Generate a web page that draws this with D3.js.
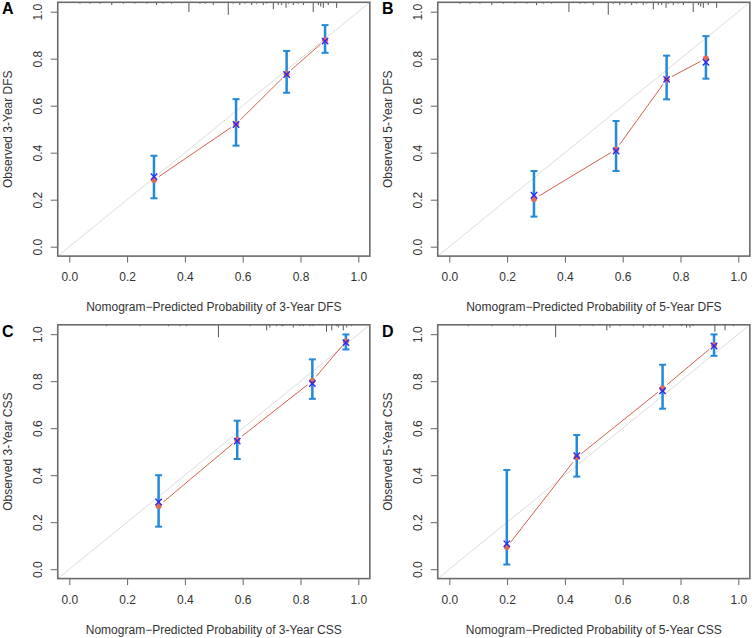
<!DOCTYPE html>
<html>
<head>
<meta charset="utf-8">
<script src="https://cdn.jsdelivr.net/npm/d3@7/dist/d3.min.js"></script>
<style>
  html, body { margin: 0; padding: 0; background: #fff; }
  svg { display: block; font-family: "Liberation Sans", Arial, sans-serif; }
</style>
</head>
<body>
<div id="chart"></div>
<script>
// ---- Data ----
const panelLabels = ["A", "B", "C", "D"];
const xTitles = [
  "Nomogram\u2212Predicted Probability of 3-Year DFS",
  "Nomogram\u2212Predicted Probability of 5-Year DFS",
  "Nomogram\u2212Predicted Probability of 3-Year CSS",
  "Nomogram\u2212Predicted Probability of 5-Year CSS"
];
const yTitles = ["Observed 3-Year DFS", "Observed 5-Year DFS", "Observed 3-Year CSS", "Observed 5-Year CSS"];
const tickValues = [0, 0.2, 0.4, 0.6, 0.8, 1.0];

// predicted (x), observed KM (red), bias-corrected (blue x), CI lower, CI upper
const predA = [0.293, 0.577, 0.752, 0.885];
const obsA  = [0.284, 0.522, 0.735, 0.879];
const corA  = [0.298, 0.520, 0.733, 0.875];
const lowA  = [0.206, 0.430, 0.655, 0.825];
const uppA  = [0.387, 0.628, 0.833, 0.943];

const predB = [0.293, 0.577, 0.752, 0.888];
const obsB  = [0.203, 0.414, 0.712, 0.801];
const corB  = [0.219, 0.407, 0.712, 0.785];
const lowB  = [0.128, 0.322, 0.627, 0.715];
const uppB  = [0.322, 0.535, 0.813, 0.896];

const predC = [0.309, 0.581, 0.841, 0.957];
const obsC  = [0.269, 0.550, 0.801, 0.969];
const corC  = [0.286, 0.545, 0.790, 0.964];
const lowC  = [0.181, 0.469, 0.725, 0.935];
const uppC  = [0.400, 0.632, 0.893, 0.999];

const predD = [0.199, 0.441, 0.738, 0.916];
const obsD  = [0.094, 0.476, 0.769, 0.953];
const corD  = [0.108, 0.483, 0.759, 0.950];
const lowD  = [0.020, 0.394, 0.683, 0.908];
const uppD  = [0.422, 0.571, 0.870, 0.999];

// distribution of predicted risk (rug spikes at top): position, relative frequency
const rugXDFS = [0.037,0.072,0.106,0.147,0.187,0.227,0.268,0.302,0.325,0.354,0.414,0.452,0.470,0.498,0.550,0.567,0.590,0.608,0.631,0.648,0.671,0.683,0.706,0.723,0.735,0.750,0.758,0.775,0.792,0.810,0.844,0.862,0.870,0.879,0.896,0.925];
const rugNDFS = [1,1,1,2,1,1,1,2,1,1,7,1,1,2,9,1,2,1,2,1,2,1,5,2,2,4,1,2,1,2,7,2,3,4,2,4];
const rugX3CSS = [0.129,0.245,0.343,0.383,0.406,0.516,0.625,0.683,0.694,0.717,0.735,0.740,0.775,0.798,0.810,0.833,0.844,0.890,0.908,0.925,0.931,0.948,0.960,0.977];
const rugN3CSS = [1,1,1,1,1,9,1,4,2,1,1,1,2,1,1,1,1,5,4,1,2,4,2,1];
const rugX5CSS = [0.066,0.147,0.222,0.245,0.268,0.368,0.452,0.498,0.545,0.556,0.590,0.637,0.671,0.694,0.712,0.740,0.763,0.804,0.821,0.833,0.844,0.919,0.954,0.983];
const rugN5CSS = [1,1,1,1,1,9,1,1,4,2,1,1,2,1,1,2,1,1,2,2,1,5,4,1];

const panels = [
  {pred: predA, obs: obsA, cor: corA, low: lowA, upp: uppA, rx: rugXDFS, rn: rugNDFS},
  {pred: predB, obs: obsB, cor: corB, low: lowB, upp: uppB, rx: rugXDFS, rn: rugNDFS},
  {pred: predC, obs: obsC, cor: corC, low: lowC, upp: uppC, rx: rugX3CSS, rn: rugN3CSS},
  {pred: predD, obs: obsD, cor: corD, low: lowD, upp: uppD, rx: rugX5CSS, rn: rugN5CSS}
];

// ---- Drawing ----
const W = 753, H = 638;
const svg = d3.select("#chart").append("svg").attr("width", W).attr("height", H);

const colDx = 380, rowDy = 322.5;
const spike = d3.scaleLinear().domain([0, 9]).range([0, 12.5]);
const FS = "12px";

panels.forEach((p, i) => {
  const col = i % 2, row = Math.floor(i / 2);
  const ox = col * colDx, oy = row * rowDy;
  const x = d3.scaleLinear().domain([0, 1]).range([69.3 + ox, 358.3 + ox]);
  const y = d3.scaleLinear().domain([0, 1]).range([246.7 + oy, 11.7 + oy]);
  const g = svg.append("g");
  const bx0 = x(-0.04), bx1 = x(1.04), by0 = y(-0.04), by1 = y(1.04);

  const clipId = "clip" + i;
  svg.append("clipPath").attr("id", clipId).append("rect")
    .attr("x", bx0).attr("y", by1).attr("width", bx1 - bx0).attr("height", by0 - by1);

  // ideal diagonal
  g.append("line").attr("clip-path", `url(#${clipId})`)
    .attr("x1", x(-0.04)).attr("y1", y(-0.04)).attr("x2", x(1.04)).attr("y2", y(1.04))
    .attr("stroke", "#dcdcdc").attr("stroke-width", 1);

  // rug spikes at top
  g.selectAll(".rug").data(p.rx).enter().append("line")
    .attr("x1", d => x(d)).attr("x2", d => x(d))
    .attr("y1", by1).attr("y2", (d, k) => by1 + spike(p.rn[k]))
    .attr("stroke", "#555").attr("stroke-width", 1);

  // red connecting line with gaps (type "b")
  const gap = 6;
  for (let k = 0; k < p.pred.length - 1; k++) {
    const xa = x(p.pred[k]), ya = y(p.obs[k]), xb = x(p.pred[k + 1]), yb = y(p.obs[k + 1]);
    const L = Math.hypot(xb - xa, yb - ya), ux = (xb - xa) / L, uy = (yb - ya) / L;
    g.append("line")
      .attr("x1", xa + ux * gap).attr("y1", ya + uy * gap)
      .attr("x2", xb - ux * gap).attr("y2", yb - uy * gap)
      .attr("stroke", "#d9604c").attr("stroke-width", 1);
  }

  // error bars
  const eb = g.selectAll(".eb").data(p.pred).enter().append("g");
  const cap = 3.5, ebCol = "#2389d8";
  eb.append("line").attr("x1", d => x(d)).attr("x2", d => x(d))
    .attr("y1", (d, k) => y(p.low[k])).attr("y2", (d, k) => y(p.upp[k]))
    .attr("stroke", ebCol).attr("stroke-width", 2.5);
  eb.append("line").attr("x1", d => x(d) - cap).attr("x2", d => x(d) + cap)
    .attr("y1", (d, k) => y(p.low[k])).attr("y2", (d, k) => y(p.low[k]))
    .attr("stroke", ebCol).attr("stroke-width", 2);
  eb.append("line").attr("x1", d => x(d) - cap).attr("x2", d => x(d) + cap)
    .attr("y1", (d, k) => y(p.upp[k])).attr("y2", (d, k) => y(p.upp[k]))
    .attr("stroke", ebCol).attr("stroke-width", 2);

  // red observed points
  g.selectAll(".pt").data(p.pred).enter().append("circle")
    .attr("cx", d => x(d)).attr("cy", (d, k) => y(p.obs[k])).attr("r", 3)
    .attr("fill", "#e06a58");

  // blue bias-corrected x
  const s = 3.2;
  g.selectAll(".bx").data(p.pred).enter().append("path")
    .attr("d", (d, k) => {
      const cx = x(d), cy = y(p.cor[k]);
      return `M${cx - s},${cy - s}L${cx + s},${cy + s}M${cx - s},${cy + s}L${cx + s},${cy - s}`;
    })
    .attr("stroke", "#2a2af5").attr("stroke-width", 1.4).attr("fill", "none");

  // axes
  const xAxis = g.append("g").attr("transform", `translate(0,${by0})`)
    .call(d3.axisBottom(x).tickValues(tickValues).tickFormat(d3.format(".1f")).tickSize(6.5).tickPadding(10));
  xAxis.select(".domain").remove();
  xAxis.selectAll("line").attr("stroke", "#666").attr("stroke-width", 1);
  xAxis.selectAll("text").attr("fill", "#333").style("font-size", FS)
    .style("font-family", '"Liberation Sans", Arial, sans-serif');

  const yAxis = g.append("g").attr("transform", `translate(${bx0},0)`)
    .call(d3.axisLeft(y).tickValues(tickValues).tickFormat(d3.format(".1f")).tickSize(7).tickPadding(0));
  yAxis.select(".domain").remove();
  yAxis.selectAll("line").attr("stroke", "#666").attr("stroke-width", 1);
  yAxis.selectAll("text").attr("fill", "#333").style("font-size", FS)
    .style("font-family", '"Liberation Sans", Arial, sans-serif')
    .attr("x", null).attr("dy", null)
    .attr("transform", "translate(-20,0) rotate(-90)")
    .attr("text-anchor", "middle").attr("dy", "0.35em");

  // plot box
  g.append("rect").attr("x", bx0).attr("y", by1).attr("width", bx1 - bx0).attr("height", by0 - by1)
    .attr("fill", "none").attr("stroke", "#6b6b6b").attr("stroke-width", 1.6);

  // titles
  g.append("text").attr("x", (bx0 + bx1) / 2).attr("y", by0 + 55)
    .attr("text-anchor", "middle").attr("fill", "#333").style("font-size", FS)
    .text(xTitles[i]);
  g.append("text").attr("transform", `translate(${12 + ox},${(by0 + by1) / 2}) rotate(-90)`)
    .attr("text-anchor", "middle").attr("fill", "#333").style("font-size", FS)
    .text(yTitles[i]);

  // panel label
  g.append("text").attr("x", 2 + ox).attr("y", 14 + oy)
    .attr("font-weight", "bold").attr("fill", "#000").style("font-size", "16px")
    .text(panelLabels[i]);
});
</script>
</body>
</html>
